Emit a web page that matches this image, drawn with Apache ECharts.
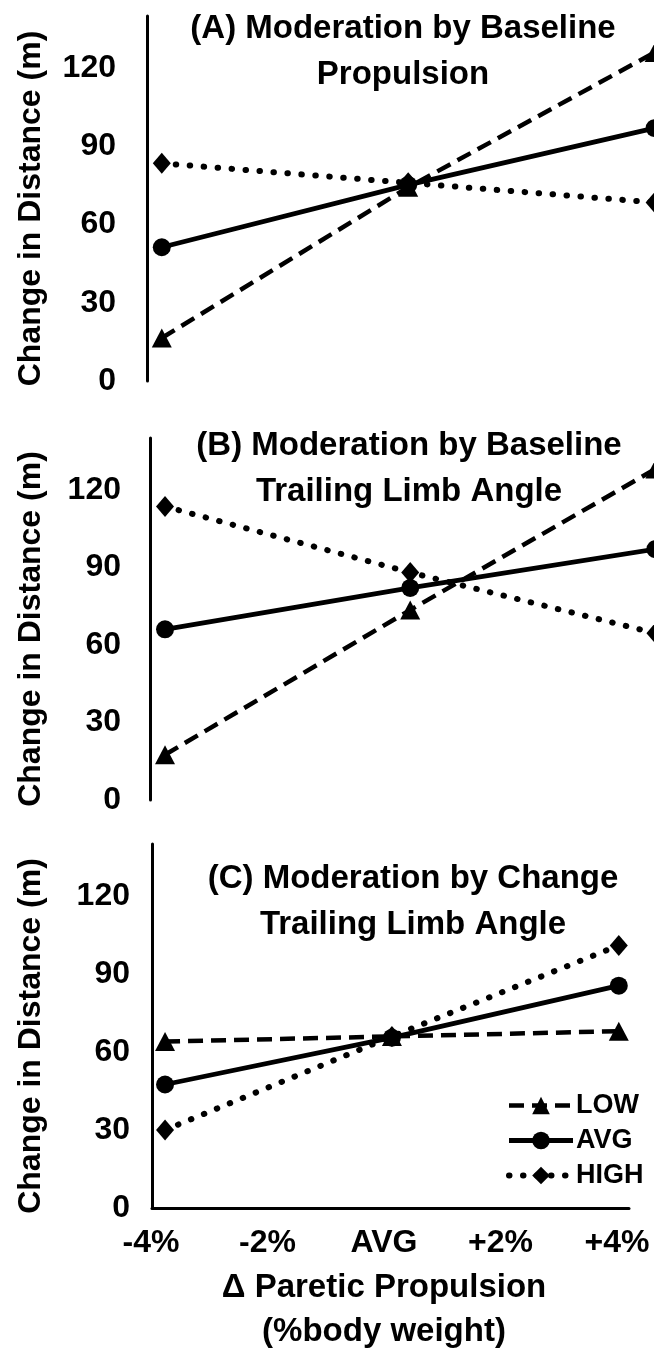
<!DOCTYPE html>
<html><head><meta charset="utf-8">
<script src="https://cdn.jsdelivr.net/npm/echarts@6/dist/echarts.min.js"></script>
<style>html,body{margin:0;padding:0;background:#fff}#c{width:654px;height:1353px}</style>
</head><body><div id="c"></div>
<script>
// ---- data ----
const xValues = [-4, 0, 4];
const xTickLabels = ['-4%', '-2%', 'AVG', '+2%', '+4%'];
const yTickLabels = [0, 30, 60, 90, 120];
const seriesNames = ['LOW', 'AVG', 'HIGH'];
const titleA = ['(A) Moderation by Baseline', 'Propulsion'];
const titleB = ['(B) Moderation by Baseline', 'Trailing Limb Angle'];
const titleC = ['(C) Moderation by Change', 'Trailing Limb Angle'];
const yAxisName = 'Change in Distance (m)';
const xAxisName = ['\u0394 Paretic Propulsion', '(%body weight)'];

const aLow  = [16.5, 74.3, 126];
const aAvg  = [51.3, 75.2, 97];
const aHigh = [83.5, 76, 68.5];

const bLow  = [17.5, 73.5, 128];
const bAvg  = [66, 82, 97];
const bHigh = [113.5, 88, 64.5];

const cLow  = [64, 66, 68];
const cAvg  = [47.5, 65.5, 85.5];
const cHigh = [30, 66, 101];

// ---- layout ----
const FONT = '"Liberation Sans", Arial, sans-serif';
const panels = [
  {left: 147, width: 507, top: 16, height: 365, xmin: -4.24, xmax: 3.99, labelMargin: 31, nameGap: 100, xLine: false, data: [aLow, aAvg, aHigh], title: titleA, tx: 403, ty: 6},
  {left: 150, width: 504, top: 438, height: 362, xmin: -4.245, xmax: 3.977, labelMargin: 29, nameGap: 103, xLine: false, data: [bLow, bAvg, bHigh], title: titleB, tx: 409, ty: 423},
  {left: 152, width: 477, top: 844, height: 364, xmin: -4.23, xmax: 4.18, labelMargin: 22, nameGap: 105, xLine: true, data: [cLow, cAvg, cHigh], title: titleC, tx: 413, ty: 856}
];

const styles = [
  {symbol: 'triangle', symbolSize: [20, 19], lineStyle: {type: [15, 8], width: 4.5}},
  {symbol: 'circle', symbolSize: 18, lineStyle: {type: 'solid', width: 4.8}},
  {symbol: 'diamond', symbolSize: [18, 21], lineStyle: {type: [0.5, 13.5], cap: 'round', width: 6}}
];

const grid = [], xAxis = [], yAxis = [], series = [], graphic = [];
panels.forEach((p, i) => {
  grid.push({left: p.left, width: p.width, top: p.top, height: p.height, outerBoundsMode: 'none', containLabel: false});
  xAxis.push({
    type: 'value', gridIndex: i, min: p.xmin, max: p.xmax,
    axisLine: {show: p.xLine, onZero: false, lineStyle: {color: '#000', width: 3}},
    axisTick: {show: false}, axisLabel: {show: false}, splitLine: {show: false}
  });
  yAxis.push({
    type: 'value', gridIndex: i, min: 0, max: 140, interval: 30,
    axisLine: {show: true, onZero: false, lineStyle: {color: '#000', width: 3}},
    axisTick: {show: false}, splitLine: {show: false},
    axisLabel: {
      margin: p.labelMargin, color: '#000', fontSize: 32, fontWeight: 'bold', fontFamily: FONT,
      formatter: v => (yTickLabels.indexOf(v) >= 0 ? String(v) : '')
    },
    name: yAxisName, nameLocation: 'middle', nameRotate: 90, nameGap: p.nameGap,
    nameTextStyle: {color: '#000', fontSize: 32, fontWeight: 'bold', fontFamily: FONT, padding: [0, 20, 0, 0]}
  });
  p.data.forEach((vals, k) => {
    const st = styles[k];
    series.push({
      type: 'line', name: seriesNames[k], xAxisIndex: i, yAxisIndex: i,
      data: xValues.map((x, j) => [x, vals[j]]),
      symbol: st.symbol, symbolSize: st.symbolSize, showSymbol: true,
      clip: false, silent: true,
      itemStyle: {color: '#000'},
      lineStyle: Object.assign({color: '#000'}, st.lineStyle),
      z: 3 - k
    });
  });
  graphic.push({
    type: 'text', x: p.tx, y: p.ty,
    style: {text: p.title.join('\n'), textAlign: 'center', textVerticalAlign: 'top',
      fontSize: 33, fontWeight: 'bold', fontFamily: FONT, fill: '#000', lineHeight: 46}
  });
});

// label-only axis for the shared x tick labels under panel C
grid.push({left: 151, width: 466, top: 844, height: 364, outerBoundsMode: 'none', containLabel: false});
xAxis.push({
  type: 'category', gridIndex: 3, data: xTickLabels, boundaryGap: false,
  axisLine: {show: false}, axisTick: {show: false}, splitLine: {show: false},
  axisLabel: {margin: 19, color: '#000', fontSize: 32, fontWeight: 'bold', fontFamily: FONT, interval: 0},
  name: xAxisName.join('\n'), nameLocation: 'middle', nameGap: 58,
  nameTextStyle: {color: '#000', fontSize: 33, fontWeight: 'bold', fontFamily: FONT, lineHeight: 44}
});
yAxis.push({type: 'value', gridIndex: 3, min: 0, max: 1, show: false});

const legendData = seriesNames.map((n, k) => ({
  name: n,
  lineStyle: Object.assign({color: '#000'}, styles[k].lineStyle),
  itemStyle: {color: '#000'}
}));

const chart = echarts.init(document.getElementById('c'), null, {renderer: 'canvas'});
chart.setOption({
  animation: false,
  backgroundColor: '#fff',
  grid, xAxis, yAxis, series, graphic,
  legend: {
    data: legendData, orient: 'vertical', left: 506, top: 1092,
    itemWidth: 64, itemHeight: 22, itemGap: 8, padding: 0,
    textStyle: {color: '#000', fontSize: 27, fontWeight: 'bold', fontFamily: FONT, padding: [0, 0, 0, -2]}
  }
});
</script></body></html>
